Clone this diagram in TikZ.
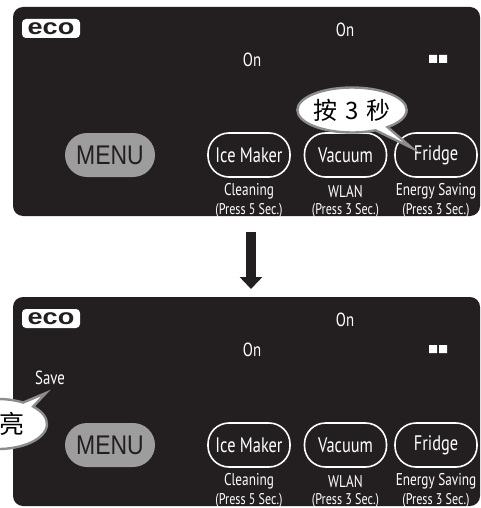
\documentclass[tikz,border=0pt]{standalone}
\usepackage{fontspec}
\setmainfont{PT Sans}
\newfontfamily\condfont[FakeStretch=0.78]{PT Sans}
\newfontfamily\menufont[FakeStretch=0.85]{Liberation Sans}
\newfontfamily\cjk{Noto Sans CJK SC}
\usetikzlibrary{arrows.meta,shapes.callouts}
\definecolor{panelbg}{RGB}{35,31,32}
\definecolor{menugray}{RGB}{157,157,157}
\definecolor{bubblegray}{RGB}{140,140,140}

\begin{document}
\begin{tikzpicture}[x=1pt,y=-1pt,
  panel/.style={fill=panelbg,rounded corners=10pt},
  logo/.style={fill=white,rounded corners=4pt,minimum width=58pt,minimum height=19pt,inner sep=0pt,
    text=panelbg,font=\menufont\bfseries\fontsize{22}{22}\selectfont},
  key/.style={draw=white,line width=1.6pt,rounded corners=21pt,minimum width=82pt,minimum height=44pt,
    inner sep=0pt,text=white,font=\condfont\fontsize{21}{21}\selectfont},
  menukey/.style={fill=menugray,rounded corners=22pt,minimum width=90pt,minimum height=44pt,
    inner sep=0pt,text=panelbg,font=\menufont\fontsize{27}{27}\selectfont},
  status/.style={text=white,inner sep=0pt,font=\condfont\fontsize{19}{19}\selectfont},
  hint/.style={text=white,inner sep=0pt,font=\condfont\fontsize{17}{17}\selectfont},
  hintsmall/.style={text=white,inner sep=0pt,font=\condfont\fontsize{15.5}{15.5}\selectfont},
  bubble/.style={ellipse callout,fill=white,draw=bubblegray,line width=2.4pt,inner sep=0pt,
    font=\cjk\fontsize{24}{24}\selectfont},
  bigarrow/.style={panelbg,line width=10pt,-{Triangle[width=22pt,length=12pt]}}
]
\useasboundingbox (0,0) rectangle (481,508);
\clip (0,0) rectangle (481,508);
\foreach \p/\dy in {a/0,b/290}{
  \begin{scope}[shift={(0,\dy)}]
    \fill[panel] (13,7) rectangle (480,216);
    \node[logo] (eco\p) at (51,28.5) {\scalebox{1.45}[1]{eco}};
    \node[status] (on\p) at (345,30) {On};
    \node[status] (fan\p) at (252,60) {On};
    \fill[white] (429,55) rectangle (437,63) (439,55) rectangle (447,63);
    \node[menukey] (menu\p) at (110,155) {MENU};
    \foreach \k/\x/\lbl/\hintA/\secs in {ice/249/Ice Maker/Cleaning/5,
        vac/345.5/Vacuum/WLAN/3,fri/436/Fridge/Energy Saving/3}{
      \node[key] (\k\p) at (\x,155) {\lbl};
      \node[hint] (\k\p name) at (\x,191.5) {\hintA};
      \node[hintsmall] (\k\p sec) at (\x,210.5) {(Press \secs\ Sec.)};
    }
  \end{scope}
}
% hold the Fridge key
\node[bubble,minimum width=90pt,minimum height=45pt,callout absolute pointer={(412,148)}]
  (press) at (352,110) {按\hspace{8pt}3\hspace{8pt}秒};
% step between the two states
\coordinate (arrtop) at (251,232);
\coordinate (arrtip) at (251,289);
\draw[bigarrow] (arrtop) -- (arrtip);
% Save shows up
\node[status] (save) at (50,378) {Save};
\node[bubble,minimum width=98pt,minimum height=50pt,callout absolute pointer={(46,393)}]
  (lit) at (-2,424) {};
\node[font=\cjk\fontsize{25}{25}\selectfont,inner sep=0pt] (litchar) at (12,424) {亮};
\end{tikzpicture}
\end{document}
